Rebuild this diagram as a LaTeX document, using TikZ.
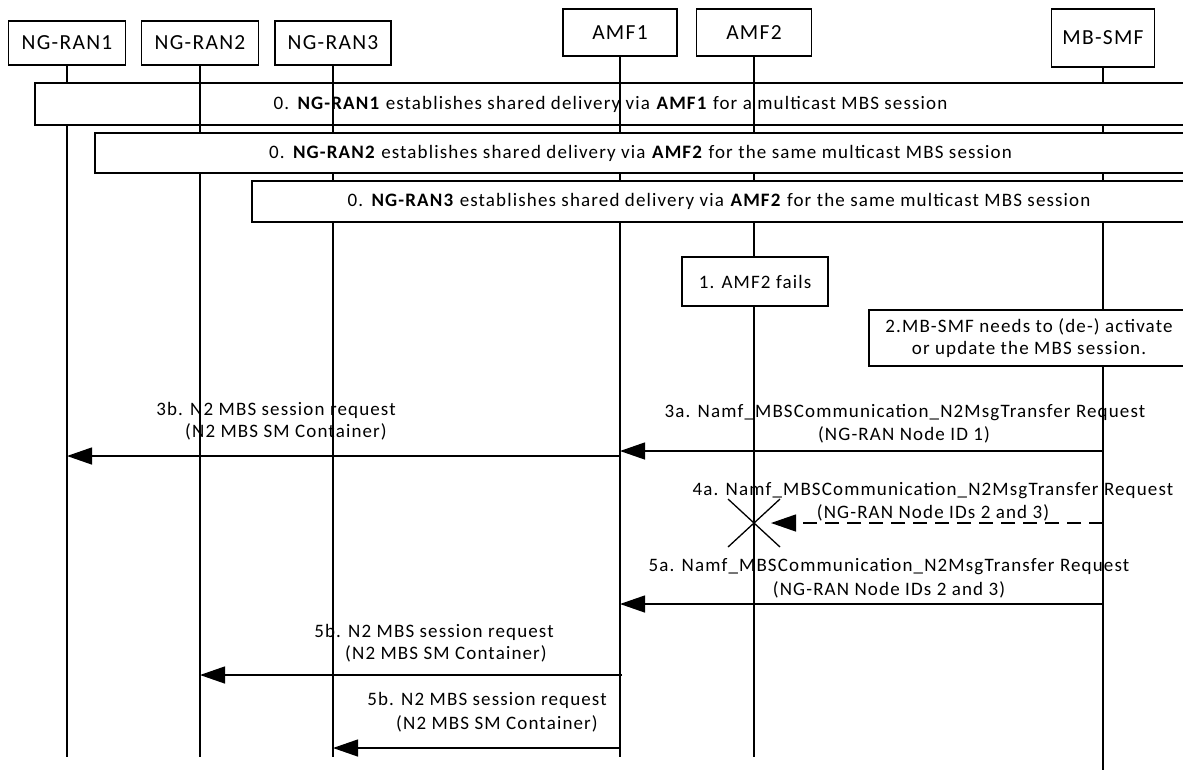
\documentclass[tikz,border=0pt]{standalone}
\usepackage{fontspec}
\setmainfont{Carlito}[LetterSpace=6]
\usetikzlibrary{arrows.meta}
\begin{document}
\begin{tikzpicture}[x=1pt,y=-1pt,
  every node/.style={font=\fontsize{19}{22}\selectfont},
  hdr/.style={draw, line width=1.3pt, fill=white, inner sep=0pt, font=\fontsize{21.5}{24}\selectfont},
  band/.style={draw, line width=1.3pt, fill=white, inner sep=0pt, align=center},
  life/.style={line width=1.3pt},
  msg/.style={line width=1.3pt, -{Triangle[length=25pt,width=17pt]}},
  dmsg/.style={msg, dash pattern=on 14pt off 8pt},
  lbl/.style={inner sep=0pt, anchor=center}]
\useasboundingbox (0,0) rectangle (1183,772);
\fill[white] (0,0) rectangle (1183,772);

% coordinates for vertical levels
\coordinate (bot) at (0,757);
\coordinate (bot2) at (0,770);
\coordinate (m3b) at (0,456);
\coordinate (m3a) at (0,451);
\coordinate (m4a) at (0,523);
\coordinate (m5a) at (0,604);
\coordinate (m5b) at (0,675);
\coordinate (m5c) at (0,748);

% headers
\node[hdr, minimum width=117pt, minimum height=44pt] (ran1) at (67,43) {NG-RAN1};
\node[hdr, minimum width=117pt, minimum height=44pt] (ran2) at (200,43) {NG-RAN2};
\node[hdr, minimum width=116pt, minimum height=44pt] (ran3) at (333,43) {NG-RAN3};
\node[hdr, minimum width=114pt, minimum height=47pt] (amf1) at (620,32.5) {AMF1};
\node[hdr, minimum width=115pt, minimum height=47pt] (amf2) at (754,32.5) {AMF2};
\node[hdr, minimum width=103pt, minimum height=58pt] (mbsmf) at (1103,38) {MB-SMF};

% lifelines under band 0a
\draw[life] (ran1) -- (ran1 |- bot);
\draw[life] (mbsmf) -- (mbsmf |- bot2);

\node[band, minimum width=1151pt, minimum height=42pt] (s0a) at (610.5,104)
  {0. \textbf{NG-RAN1} establishes shared delivery via \textbf{AMF1} for a multicast MBS session};

% lifelines over band 0a
\draw[life] (ran2) -- (ran2 |- bot);
\draw[life] (ran3) -- (ran3 |- bot);
\draw[life] (amf1) -- (amf1 |- bot);
\draw[life] (amf2) -- (amf2 |- bot);

\node[band, minimum width=1091pt, minimum height=40pt] (s0b) at (640.5,153)
  {0. \textbf{NG-RAN2} establishes shared delivery via \textbf{AMF2} for the same multicast MBS session};
\node[band, minimum width=934pt, minimum height=41pt] (s0c) at (719,201.5)
  {0. \textbf{NG-RAN3} establishes shared delivery via \textbf{AMF2} for the same multicast MBS session};

\node[band, minimum width=146pt, minimum height=49pt] (s1) at (755,281.5) {1. AMF2 fails};
\node[band, minimum width=320pt, minimum height=56pt] (s2) at (1029,338)
  {2.MB-SMF needs to (de-) activate\\or update the MBS session.};

% 3a / 3b
\draw[msg] (mbsmf |- m3a) -- (amf1 |- m3a);
\node[lbl] (l3a1) at (905,413) {3a. Namf\_MBSCommunication\_N2MsgTransfer Request};
\node[lbl] (l3a2) at (904,435) {(NG-RAN Node ID 1)};
\draw[msg] (amf1 |- m3b) -- (ran1 |- m3b);
\node[lbl] (l3b1) at (276,410) {3b. N2 MBS session request};
\node[lbl] (l3b2) at (286,432) {(N2 MBS SM Container)};

% 4a
\coordinate (fail) at (amf2 |- m4a);
\draw[life] (fail) ++(-26,-24) -- ++(52,48);
\draw[life] (fail) ++(-26,24) -- ++(52,-48);
\draw[dmsg] (mbsmf |- m4a) -- ([xshift=17pt]fail);
\node[lbl] (l4a1) at (933,491) {4a. Namf\_MBSCommunication\_N2MsgTransfer Request};
\node[lbl] (l4a2) at (933,513) {(NG-RAN Node IDs 2 and 3)};

% 5a
\draw[msg] (mbsmf |- m5a) -- (amf1 |- m5a);
\node[lbl] (l5a1) at (889,567) {5a. Namf\_MBSCommunication\_N2MsgTransfer Request};
\node[lbl] (l5a2) at (889,590) {(NG-RAN Node IDs 2 and 3)};

% 5b
\draw[msg] ([xshift=2pt]amf1 |- m5b) -- (ran2 |- m5b);
\node[lbl] (l5b1) at (434,632) {5b. N2 MBS session request};
\node[lbl] (l5b2) at (446,654) {(N2 MBS SM Container)};
\draw[msg] (amf1 |- m5c) -- (ran3 |- m5c);
\node[lbl] (l5c1) at (487,700) {5b. N2 MBS session request};
\node[lbl] (l5c2) at (497,724) {(N2 MBS SM Container)};
\end{tikzpicture}
\end{document}
